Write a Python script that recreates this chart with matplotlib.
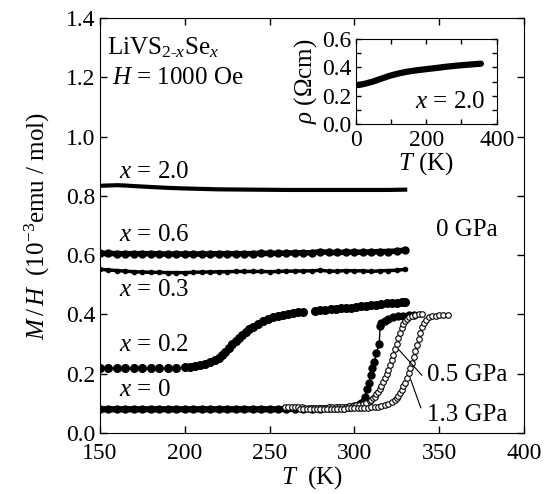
import matplotlib
matplotlib.use("Agg")
import matplotlib.pyplot as plt

plt.rcParams['font.family'] = ['Liberation Serif', 'DejaVu Serif']
plt.rcParams['mathtext.fontset'] = 'custom'
plt.rcParams['mathtext.rm'] = 'Liberation Serif'
plt.rcParams['mathtext.it'] = 'Liberation Serif:italic'
plt.rcParams['font.size'] = 18

# x = 2.0, 0 GPa
t_20 = [150, 155, 160, 165, 170, 180, 190, 200, 220, 240, 260, 280, 300, 320, 330]
m_20 = [0.834, 0.835, 0.836, 0.835, 0.833, 0.830, 0.827, 0.825, 0.822, 0.821, 0.820, 0.820, 0.820, 0.820, 0.821]

# x = 0.6
t_06 = [150, 155, 160, 165, 170, 175, 180, 185, 190, 195, 200, 205, 210, 215, 220, 225, 230, 235, 240,
        245, 250, 255, 260, 265, 270, 275, 280, 285, 290, 295, 300, 305, 310, 315, 320, 325, 330]
m_06 = [0.606, 0.606, 0.605, 0.605, 0.605, 0.605, 0.605, 0.604, 0.604, 0.604, 0.604, 0.604, 0.604, 0.604,
        0.605, 0.605, 0.605, 0.605, 0.605, 0.606, 0.606, 0.606, 0.607, 0.608, 0.608, 0.608, 0.612, 0.609,
        0.609, 0.610, 0.610, 0.610, 0.611, 0.612, 0.612, 0.614, 0.617]

# x = 0.3
t_03 = [150, 155, 160, 165, 170, 175, 180, 185, 190, 195, 200, 205, 210, 215, 220, 225, 230, 235, 240,
        245, 250, 255, 260, 265, 270, 275, 280, 285, 290, 295, 300, 305, 310, 315, 320, 325, 330]
m_03 = [0.552, 0.550, 0.548, 0.546, 0.544, 0.543, 0.542, 0.542, 0.541, 0.541, 0.541, 0.542, 0.543, 0.543,
        0.544, 0.544, 0.545, 0.545, 0.545, 0.545, 0.544, 0.545, 0.546, 0.546, 0.547, 0.547, 0.549, 0.546,
        0.546, 0.548, 0.547, 0.547, 0.545, 0.547, 0.548, 0.549, 0.552]

# x = 0.2
t_02 = [150, 155, 160, 165, 170, 175, 180, 185, 190, 195, 200, 203, 206, 209, 212, 215, 218, 220, 222,
        224, 226, 228, 230, 232, 234, 236, 238, 240, 243, 246, 249, 252, 255, 258, 261, 264, 267, 270,
        277, 280, 283, 286, 289, 292, 295, 298, 301, 304, 307, 310, 313, 316, 319, 322, 325, 328, 330]
m_02 = [0.219, 0.219, 0.218, 0.218, 0.218, 0.218, 0.218, 0.218, 0.219, 0.220, 0.222, 0.224, 0.227, 0.230,
        0.234, 0.239, 0.246, 0.252, 0.262, 0.274, 0.286, 0.299, 0.311, 0.322, 0.332, 0.341, 0.350, 0.358,
        0.368, 0.377, 0.384, 0.390, 0.395, 0.399, 0.402, 0.405, 0.407, 0.409, 0.412, 0.414, 0.416, 0.418,
        0.420, 0.421, 0.422, 0.423, 0.425, 0.427, 0.429, 0.431, 0.433, 0.435, 0.437, 0.438, 0.440, 0.441,
        0.443]

# x = 0, 0 GPa
t_00 = [150, 155, 160, 165, 170, 175, 180, 185, 190, 195, 200, 205, 210, 215, 220, 225, 230, 235, 240,
        245, 250, 255, 260, 265, 270, 275, 280, 285, 290, 294, 297, 300, 302, 304, 305.5, 306.5, 307.6,
        308.8, 310, 310.6, 311.8, 313, 314.7, 315.2, 316, 318, 320, 323, 326, 329, 332, 335]
m_00 = [0.080, 0.080, 0.080, 0.080, 0.080, 0.080, 0.080, 0.080, 0.080, 0.080, 0.080, 0.080, 0.080, 0.080,
        0.080, 0.080, 0.080, 0.080, 0.080, 0.080, 0.080, 0.080, 0.081, 0.081, 0.081, 0.081, 0.082, 0.083,
        0.084, 0.086, 0.088, 0.091, 0.095, 0.100, 0.108, 0.122, 0.150, 0.170, 0.196, 0.220, 0.240, 0.270,
        0.300, 0.362, 0.370, 0.378, 0.385, 0.391, 0.394, 0.396, 0.397, 0.397]

# x = 0, 0.5 GPa
t_05 = [259, 261, 263, 265, 267, 269, 271, 273, 275, 277, 279, 281, 283, 285, 287, 289, 291, 293, 295,
        297, 299, 301, 303, 305, 307, 309, 310, 311, 312, 313, 314, 315, 316, 317, 318, 319, 320, 321,
        322, 323, 324, 325, 326, 327, 328, 329, 330, 331, 332, 334, 336, 338, 340]
m_05 = [0.089, 0.088, 0.088, 0.087, 0.087, 0.087, 0.086, 0.086, 0.086, 0.086, 0.086, 0.086, 0.086, 0.087,
        0.087, 0.087, 0.088, 0.088, 0.089, 0.090, 0.091, 0.093, 0.095, 0.098, 0.102, 0.108, 0.112, 0.117,
        0.123, 0.130, 0.139, 0.149, 0.160, 0.172, 0.185, 0.199, 0.214, 0.230, 0.247, 0.264, 0.282, 0.301,
        0.320, 0.338, 0.354, 0.367, 0.377, 0.385, 0.390, 0.395, 0.398, 0.400, 0.401]

# x = 0, 1.3 GPa
t_13 = [268, 270, 272, 274, 276, 278, 280, 282, 284, 286, 288, 290, 292, 294, 296, 298, 300, 302, 304,
        306, 308, 310, 312, 314, 316, 318, 320, 322, 324, 325, 326, 327, 328, 329, 330, 331, 332, 333,
        334, 335, 336, 337, 338, 339, 340, 341, 342, 344, 346, 348, 350, 352, 355]
m_13 = [0.081, 0.081, 0.081, 0.081, 0.081, 0.081, 0.081, 0.081, 0.081, 0.081, 0.082, 0.082, 0.082, 0.082,
        0.083, 0.083, 0.083, 0.084, 0.084, 0.085, 0.086, 0.087, 0.088, 0.089, 0.091, 0.094, 0.098, 0.103,
        0.111, 0.117, 0.125, 0.134, 0.145, 0.157, 0.170, 0.185, 0.201, 0.218, 0.236, 0.255, 0.275, 0.296,
        0.317, 0.338, 0.356, 0.371, 0.382, 0.390, 0.394, 0.396, 0.397, 0.397, 0.397]

# inset: resistivity of x = 2.0
t_rho = [3, 10, 20, 30, 48, 70, 97, 120, 145, 175, 202, 230, 259, 290, 320, 355]
rho = [0.275, 0.276, 0.281, 0.287, 0.299, 0.318, 0.341, 0.356, 0.369, 0.380, 0.388, 0.396, 0.405, 0.413,
       0.419, 0.426]

fig = plt.figure(figsize=(5.55, 4.94), dpi=100)
ax = fig.add_axes([0.180, 0.1235, 0.764, 0.840])

ax.plot(t_20, m_20, '-', color='k', lw=3)
ax.plot(t_06, m_06, 'o-', color='k', ms=5, lw=4)
ax.plot(t_03, m_03, 'o-', color='k', ms=3, lw=2.5)
ax.plot(t_02, m_02, 'o', color='k', ms=5.5)
ax.plot(t_00, m_00, 'o-', color='k', ms=5, lw=1)
ax.plot(t_00[:29], m_00[:29], '-', color='k', lw=4.5)
ax.plot(t_05, m_05, 'o', color='k', mfc='white', ms=4, mew=0.8)
ax.plot(t_13, m_13, 'o', color='k', mfc='white', ms=4, mew=0.8)

ax.set_xlim(150, 400)
ax.set_ylim(0, 1.4)
ax.set_xticks([150, 200, 250, 300, 350, 400])
ax.set_yticks([0.0, 0.2, 0.4, 0.6, 0.8, 1.0, 1.2, 1.4])
ax.set_yticklabels(['0.0', '0.2', '0.4', '0.6', '0.8', '1.0', '1.2', '1.4'])
ax.tick_params(direction='in', length=5, width=1, top=True, right=True, labelsize=17)
ax.tick_params(axis='x', pad=7.5)
ax.tick_params(axis='y', pad=3)
ax.set_xlabel('$T$  (K)', labelpad=0)
ax.set_ylabel('$M\\,/\\,H$  (10$^{-3}$emu / mol)', labelpad=10)

ax.text(154, 1.30, 'LiVS$_{2\\text{-}x}$Se$_{x}$', va='center')
ax.text(157, 1.197, '$H$ = 1000 Oe', va='center')
ax.text(161.5, 0.88, '$x$ = 2.0', va='center')
ax.text(161.5, 0.668, '$x$ = 0.6', va='center')
ax.text(161.5, 0.482, '$x$ = 0.3', va='center')
ax.text(161.5, 0.297, '$x$ = 0.2', va='center')
ax.text(161.5, 0.145, '$x$ = 0', va='center')
ax.text(348, 0.685, '0 GPa', va='center')
ax.text(343, 0.196, '0.5 GPa', va='center')
ax.text(343, 0.061, '1.3 GPa', va='center')
ax.plot([326.1, 339.8], [0.282, 0.195], color='k', lw=0.8)
ax.plot([333.3, 339.2], [0.179, 0.085], color='k', lw=0.8)

ins = fig.add_axes([0.641, 0.749, 0.254, 0.172])
ins.plot(t_rho, rho, '-', color='k', lw=4.5, solid_capstyle='round')
ins.set_xlim(0, 400)
ins.set_ylim(0, 0.6)
ins.set_xticks([0, 200, 400])
ins.set_xticks([100, 300], minor=True)
ins.set_yticks([0.0, 0.2, 0.4, 0.6])
ins.set_yticklabels(['0.0', '0.2', '0.4', '0.6'])
ins.set_yticks([0.1, 0.3, 0.5], minor=True)
ins.tick_params(which='both', direction='in', length=3.5, width=1, top=True, right=True, labelsize=17)
ins.tick_params(axis='x', pad=4)
ins.tick_params(axis='y', pad=3)
ins.set_xlabel('$T$ (K)', labelpad=0)
ins.set_ylabel('$\\rho$ ($\\Omega$cm)', labelpad=2)
ins.text(367, 0.157, '$x$ = 2.0', ha='right', va='center')

fig.savefig('out.png', dpi=100)
